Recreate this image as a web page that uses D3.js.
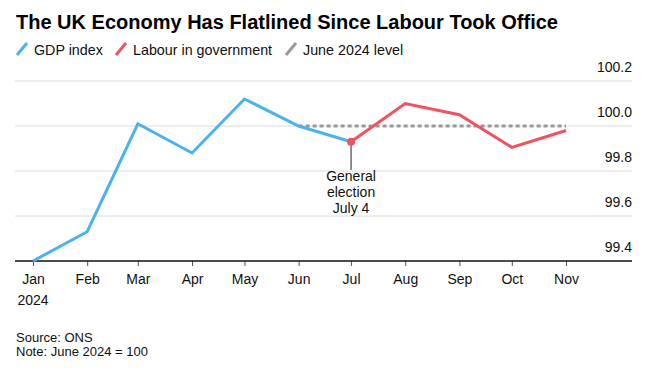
<!DOCTYPE html>
<html>
<head>
<meta charset="utf-8">
<script src="https://cdn.jsdelivr.net/npm/d3@7"></script>
<style>
body { margin: 0; background: #fff; }
text { font-family: "Liberation Sans", Arial, sans-serif; }
</style>
</head>
<body>
<svg></svg>
<script>
var width = 665;
var height = 371;

// data (June 2024 = 100)
var months = ["2024-01-01", "2024-02-01", "2024-03-01", "2024-04-01", "2024-05-01", "2024-06-01",
              "2024-07-01", "2024-08-01", "2024-09-01", "2024-10-01", "2024-11-01"];
var monthLabels = ["Jan", "Feb", "Mar", "Apr", "May", "Jun", "Jul", "Aug", "Sep", "Oct", "Nov"];
var gdpValues = [99.40, 99.53, 100.01, 99.88, 100.12, 100.00, 99.93];
var labourValues = [99.93, 100.10, 100.05, 99.905, 99.98];
var juneLevel = 100;
var yTicks = [99.4, 99.6, 99.8, 100.0, 100.2];

var parse = d3.timeParse("%Y-%m-%d");
var dates = months.map(parse);
var gdp = gdpValues.map(function(v, i) { return [dates[i], v]; });
var labour = labourValues.map(function(v, i) { return [dates[i + 6], v]; });
var flat = [[dates[5], juneLevel], [dates[10], juneLevel]];

var blue = "#4cb2ee";
var red = "#f2525f";

var svg = d3.select("svg")
    .attr("width", width)
    .attr("height", height);

var x = d3.scaleTime()
    .domain([dates[0], dates[10]])
    .range([33, 566]);

var y = d3.scaleLinear()
    .domain([99.4, 100.2])
    .range([261, 81]);

var left = 15, right = 632;

// title
svg.append("text")
    .attr("x", 16).attr("y", 29)
    .style("font-size", "20px")
    .style("font-weight", "bold")
    .attr("fill", "#000")
    .text("The UK Economy Has Flatlined Since Labour Took Office");

// legend
var legend = [
    { label: "GDP index", color: blue, x: 16 },
    { label: "Labour in government", color: red, x: 115 },
    { label: "June 2024 level", color: "#999", x: 285 }
];
var lg = svg.selectAll(".legend").data(legend).enter().append("g")
    .attr("transform", function(d) { return "translate(" + d.x + ",0)"; });
lg.append("line")
    .attr("x1", 1).attr("y1", 55).attr("x2", 11).attr("y2", 43)
    .attr("stroke", function(d) { return d.color; })
    .attr("stroke-width", 3);
lg.append("text")
    .attr("x", 18).attr("y", 55)
    .style("font-size", "14.3px")
    .attr("fill", "#111")
    .text(function(d) { return d.label; });

// gridlines
svg.append("g").selectAll("line").data(yTicks.slice(1)).enter().append("line")
    .attr("x1", left).attr("x2", right)
    .attr("y1", function(d) { return y(d); })
    .attr("y2", function(d) { return y(d); })
    .attr("stroke", "#dcdcdc")
    .attr("stroke-width", 1);

// y labels
svg.append("g").selectAll("text").data(yTicks).enter().append("text")
    .attr("x", right)
    .attr("y", function(d) { return y(d) - 9; })
    .attr("text-anchor", "end")
    .style("font-size", "14px")
    .attr("fill", "#111")
    .text(function(d) { return d.toFixed(1); });

// x axis
var xAxis = d3.axisBottom(x)
    .tickValues(dates)
    .tickSize(5)
    .tickPadding(8)
    .tickFormat(function(d, i) { return monthLabels[i]; });
var xg = svg.append("g")
    .attr("transform", "translate(0," + y(99.4) + ")")
    .call(xAxis);
xg.select(".domain").remove();
xg.selectAll(".tick line").attr("stroke", "#555");
xg.selectAll(".tick text")
    .style("font-size", "14px")
    .style("font-family", "'Liberation Sans', Arial, sans-serif")
    .attr("fill", "#111");
xg.append("text")
    .attr("x", x(dates[0])).attr("y", 44)
    .attr("text-anchor", "middle")
    .style("font-size", "14px")
    .attr("fill", "#111")
    .text("2024");
svg.append("line")
    .attr("x1", left).attr("x2", right)
    .attr("y1", y(99.4)).attr("y2", y(99.4))
    .attr("stroke", "#111")
    .attr("stroke-width", 1.3);

var line = d3.line()
    .x(function(d) { return x(d[0]); })
    .y(function(d) { return y(d[1]); });

svg.append("path")
    .attr("d", line(flat))
    .attr("fill", "none")
    .attr("stroke", "#999")
    .attr("stroke-width", 3)
    .attr("stroke-dasharray", "4,3");

svg.append("path")
    .attr("d", line(gdp))
    .attr("fill", "none")
    .attr("stroke", blue)
    .attr("stroke-width", 3)
    .attr("stroke-linejoin", "miter");

svg.append("path")
    .attr("d", line(labour))
    .attr("fill", "none")
    .attr("stroke", red)
    .attr("stroke-width", 3);

// election annotation
var jx = x(dates[6]), jy = y(labourValues[0]);
svg.append("line")
    .attr("x1", jx).attr("x2", jx)
    .attr("y1", jy).attr("y2", 170)
    .attr("stroke", "#222")
    .attr("stroke-width", 1);
svg.append("circle")
    .attr("cx", jx).attr("cy", jy)
    .attr("r", 4)
    .attr("fill", red);
var ann = svg.append("text")
    .attr("x", jx).attr("y", 181)
    .attr("text-anchor", "middle")
    .style("font-size", "14px")
    .attr("fill", "#111");
["General", "election", "July 4"].forEach(function(t, i) {
    ann.append("tspan").attr("x", jx).attr("dy", i == 0 ? 0 : 16).text(t);
});

// footer
svg.append("text")
    .attr("x", 16).attr("y", 342)
    .style("font-size", "13px")
    .attr("fill", "#111")
    .text("Source: ONS");
svg.append("text")
    .attr("x", 16).attr("y", 356)
    .style("font-size", "13px")
    .attr("fill", "#111")
    .text("Note: June 2024 = 100");
</script>
</body>
</html>
